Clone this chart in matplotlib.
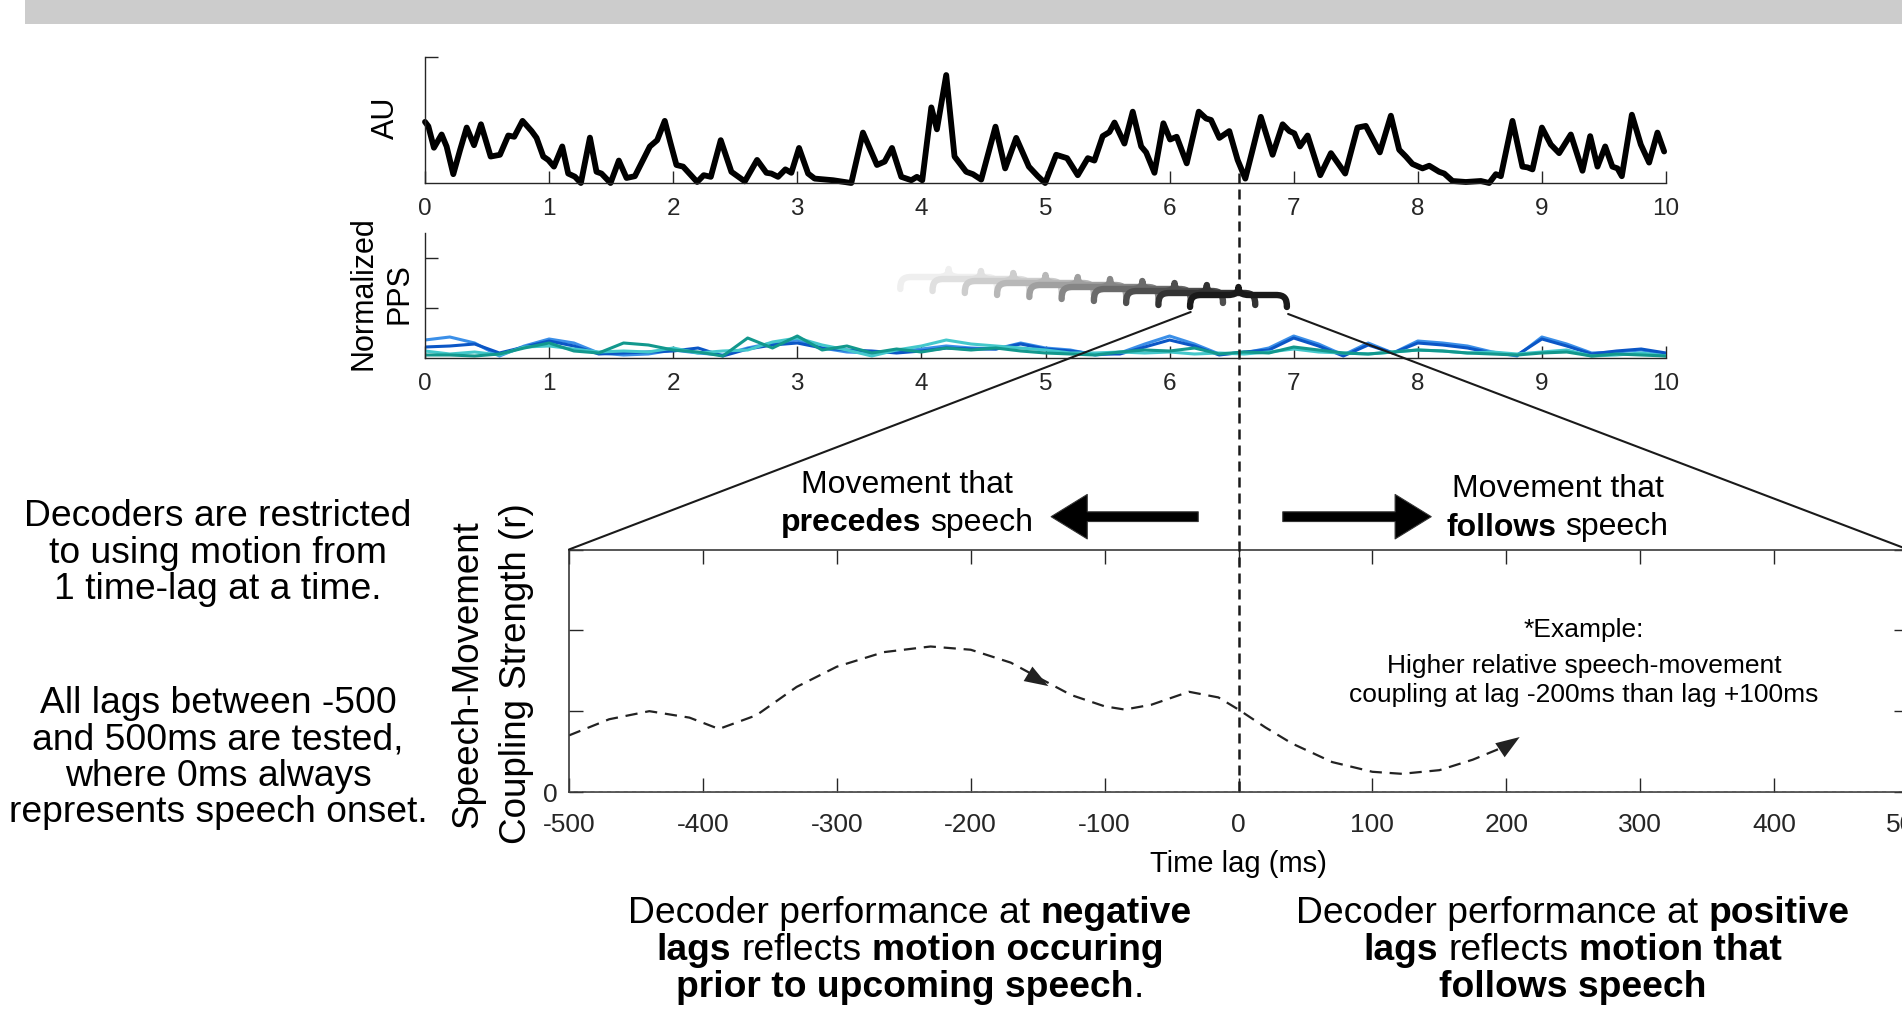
import matplotlib
matplotlib.use("Agg")
import matplotlib.pyplot as plt
import matplotlib.transforms as mtransforms
import numpy as np
from matplotlib.patches import Rectangle, PathPatch, FancyArrowPatch, ArrowStyle, ConnectionPatch
from matplotlib.path import Path
from matplotlib.lines import Line2D

plt.rcParams['font.family'] = ['Liberation Sans', 'DejaVu Sans']
plt.rcParams['axes.unicode_minus'] = False

# ---- data ----
# speech envelope (AU), time in s
au_t = [0, 0.027, 0.072, 0.134, 0.174, 0.228, 0.282, 0.336, 0.395, 0.451,
        0.529, 0.604, 0.671, 0.719, 0.786, 0.859, 0.899, 0.953, 0.993, 1.039,
        1.106, 1.154, 1.208, 1.256, 1.329, 1.382, 1.422, 1.495, 1.562, 1.624,
        1.691, 1.812, 1.871, 1.932, 1.978, 2.026, 2.08, 2.193, 2.246, 2.303,
        2.383, 2.469, 2.577, 2.676, 2.751, 2.791, 2.845, 2.904, 2.952, 3.014,
        3.087, 3.140, 3.288, 3.382, 3.435, 3.529, 3.642, 3.704, 3.763, 3.838,
        3.919, 3.964, 4.007, 4.08, 4.125, 4.20, 4.267, 4.361, 4.415, 4.482,
        4.597, 4.675, 4.764, 4.866, 4.938, 4.997, 5.086, 5.174, 5.26, 5.341,
        5.394, 5.461, 5.515, 5.556, 5.636, 5.703, 5.771, 5.811, 5.878, 5.950,
        6.004, 6.057, 6.138, 6.235, 6.294, 6.334, 6.401, 6.481, 6.548, 6.610,
        6.669, 6.735, 6.83, 6.911, 6.965, 7.005, 7.05, 7.112, 7.214, 7.30,
        7.415, 7.514, 7.581, 7.694, 7.783, 7.85, 7.904, 7.957, 8.038, 8.092,
        8.172, 8.213, 8.28, 8.387, 8.508, 8.575, 8.629, 8.669, 8.763, 8.843,
        8.884, 8.924, 9.0, 9.072, 9.139, 9.233, 9.327, 9.389, 9.448, 9.51,
        9.568, 9.609, 9.644, 9.725, 9.797, 9.864, 9.931, 9.985]
au_v = [0.485, 0.45, 0.28, 0.385, 0.29, 0.07, 0.26, 0.44, 0.30, 0.466,
        0.21, 0.224, 0.377, 0.367, 0.493, 0.412, 0.358, 0.21, 0.183, 0.13,
        0.29, 0.075, 0.05, 0.0, 0.36, 0.089, 0.075, 0.0, 0.178, 0.04,
        0.054, 0.29, 0.34, 0.493, 0.318, 0.143, 0.13, 0.008, 0.062, 0.049,
        0.34, 0.089, 0.013, 0.183, 0.081, 0.075, 0.049, 0.108, 0.081, 0.278,
        0.075, 0.035, 0.022, 0.008, 0.0, 0.40, 0.143, 0.17, 0.278, 0.049,
        0.022, 0.049, 0.022, 0.60, 0.426, 0.857, 0.21, 0.089, 0.07, 0.027,
        0.447, 0.116, 0.358, 0.13, 0.054, 0.0, 0.224, 0.197, 0.062, 0.197,
        0.178, 0.372, 0.404, 0.48, 0.313, 0.566, 0.29, 0.243, 0.081, 0.474,
        0.345, 0.367, 0.156, 0.566, 0.512, 0.50, 0.358, 0.412, 0.183, 0.035,
        0.264, 0.525, 0.224, 0.466, 0.412, 0.394, 0.29, 0.377, 0.062, 0.237,
        0.075, 0.44, 0.453, 0.243, 0.534, 0.264, 0.21, 0.151, 0.116, 0.137,
        0.089, 0.075, 0.016, 0.008, 0.016, 0.0, 0.07, 0.054, 0.493, 0.13,
        0.124, 0.108, 0.44, 0.305, 0.237, 0.385, 0.097, 0.372, 0.13, 0.29,
        0.13, 0.116, 0.054, 0.542, 0.305, 0.162, 0.40, 0.25]

# normalized PPS traces, sampled every 0.2 s
pps_t = np.round(np.arange(0, 10.01, 0.2), 1)
pps_mid_blue = [.18, .21, .15, .02, .12, .19, .15, .05, .03, .04,
                .08, .05, .03, .10, .15, .18, .10, .06, .05, .06,
                .09, .12, .10, .09, .15, .10, .08, .03, .05, .14,
                .22, .14, .04, .05, .10, .22, .14, .03, .15, .05,
                .17, .15, .12, .06, .02, .21, .14, .05, .06, .08, .04]
pps_dark_blue = [.11, .12, .14, .05, .11, .17, .12, .04, .05, .06,
                 .07, .10, .02, .09, .13, .15, .10, .08, .07, .05,
                 .07, .10, .09, .09, .14, .09, .07, .04, .04, .11,
                 .18, .12, .03, .06, .08, .20, .12, .02, .13, .05,
                 .15, .13, .10, .05, .03, .19, .12, .04, .07, .09, .05]
pps_cyan = [.07, .04, .06, .03, .11, .12, .09, .06, .07, .06,
            .10, .05, .07, .08, .16, .20, .13, .08, .02, .08,
            .12, .18, .14, .12, .10, .08, .05, .05, .06, .05,
            .06, .04, .05, .04, .06, .09, .06, .05, .04, .06,
            .08, .07, .05, .06, .04, .06, .08, .02, .03, .05, .02]
pps_teal = [.03, .03, .02, .04, .10, .15, .07, .05, .15, .13,
            .08, .06, .02, .20, .10, .22, .08, .12, .05, .09,
            .06, .10, .08, .10, .07, .05, .04, .03, .06, .08,
            .07, .10, .04, .06, .05, .11, .08, .05, .04, .06,
            .08, .07, .05, .04, .03, .05, .06, .02, .04, .03, .02]

# lag windows (brace tips, s) and their heights in the PPS axis
onset = 6.555
brace_tips = [4.22, 4.48, 4.74, 5.00, 5.26, 5.52, 5.78, 6.04, 6.30, onset]
brace_y = [0.81, 0.79, 0.77, 0.75, 0.73, 0.71, 0.69, 0.67, 0.65, 0.63]
brace_cols = ['#efefef', '#e0e0e0', '#cdcdcd', '#b8b8b8', '#a0a0a0',
              '#868686', '#6a6a6a', '#4e4e4e', '#333333', '#1a1a1a']

# example coupling-strength curve
lag = [-500, -470, -440, -410, -388, -360, -330, -300, -265, -230,
       -200, -170, -150, -125, -100, -85, -65, -37, -15, 0,
       20, 40, 70, 100, 122, 150, 175, 197]
coupling = [0.70, 0.90, 1.00, 0.92, 0.78, 0.95, 1.30, 1.55, 1.73, 1.80,
            1.76, 1.60, 1.42, 1.20, 1.06, 1.02, 1.08, 1.24, 1.17, 1.02,
            0.80, 0.60, 0.37, 0.25, 0.225, 0.27, 0.40, 0.55]
lag_ticks = list(range(-500, 501, 100))

# ---- figure ----
W, H = 1902, 1009
fig = plt.figure(figsize=(W / 100, H / 100), dpi=100)
ink = '#262626'


def rect(l, t, r, b):
    return [l / W, 1 - b / H, (r - l) / W, (b - t) / H]


fig.add_artist(Rectangle((25 / W, 1 - 24 / H), (W - 25) / W, 24 / H,
                         transform=fig.transFigure, color='#cccccc', lw=0))

# top: speech envelope
ax1 = fig.add_axes(rect(425, 57, 1666, 183))
ax1.plot(au_t, au_v, color='black', lw=4.2, solid_joinstyle='round',
         solid_capstyle='round', clip_on=False)
ax1.set_xlim(0, 10)
ax1.set_ylim(0, 1)

# middle: PPS
ax2 = fig.add_axes(rect(425, 233, 1666, 358))
for vals, col in [(pps_mid_blue, '#3b8fe8'), (pps_dark_blue, '#0b56c6'),
                  (pps_cyan, '#44c8cb'), (pps_teal, '#12988d')]:
    ax2.plot(pps_t, vals, color=col, lw=2.2, solid_joinstyle='round')
ax2.set_xlim(0, 10)
ax2.set_ylim(0, 1.25)

for ax, yt in [(ax1, [1]), (ax2, [0.5, 1.0])]:
    for s in ['top', 'right']:
        ax.spines[s].set_visible(False)
    for s in ['left', 'bottom']:
        ax.spines[s].set_color(ink)
        ax.spines[s].set_linewidth(1.0)
    ax.set_xticks(range(11))
    ax.set_yticks(yt)
    ax.set_yticklabels([])
    ax.tick_params(direction='in', length=9, width=1, colors=ink,
                   labelsize=17.5, pad=11)
    ax.patch.set_alpha(0)

# braces marking the lag windows
w_half, r_c, h_up, h_dn = 0.39, 0.09, 0.08, 0.12
for c, y, col in zip(brace_tips, brace_y, brace_cols):
    verts = [(c - w_half, y - h_dn),
             (c - w_half, y - h_dn * 0.3), (c - w_half + r_c * 0.2, y), (c - w_half + r_c, y),
             (c - r_c, y),
             (c - r_c * 0.3, y), (c, y + h_up * 0.3), (c, y + h_up),
             (c, y + h_up * 0.3), (c + r_c * 0.3, y), (c + r_c, y),
             (c + w_half - r_c, y),
             (c + w_half - r_c * 0.2, y), (c + w_half, y - h_dn * 0.3), (c + w_half, y - h_dn)]
    codes = [Path.MOVETO, Path.CURVE4, Path.CURVE4, Path.CURVE4, Path.LINETO,
             Path.CURVE4, Path.CURVE4, Path.CURVE4, Path.CURVE4, Path.CURVE4, Path.CURVE4,
             Path.LINETO, Path.CURVE4, Path.CURVE4, Path.CURVE4]
    ax2.add_patch(PathPatch(Path(verts, codes), fill=False, ec=col, lw=4.6,
                            capstyle='round', joinstyle='round', clip_on=False, zorder=4))

# bottom: coupling strength vs lag
ax3 = fig.add_axes(rect(569, 549.5, 1908, 792))
ax3.plot(lag, coupling, color='#222222', lw=1.6, ls=(0, (5.5, 3.5)))
ax3.axhline(0, color='#9a9a9a', lw=1.0, ls=(0, (3, 3)), zorder=3)
ax3.set_xlim(-500, 500)
ax3.set_ylim(0, 3)
ax3.set_xticks(lag_ticks)
ax3.set_xticklabels([str(v) for v in lag_ticks])
ax3.set_yticks([0, 1, 2, 3])
ax3.set_yticklabels(['0', '', '', ''])
ax3.tick_params(direction='in', length=10, width=1, colors=ink, labelsize=19,
                top=True, right=True)
ax3.tick_params(axis='x', pad=15)
ax3.tick_params(axis='y', pad=8)
for s in ax3.spines.values():
    s.set_color('#3a3a3a')
    s.set_linewidth(1.2)
ax3.patch.set_alpha(0)

head = dict(arrowstyle='-|>,head_length=0.9,head_width=0.32', mutation_scale=19,
            color='#222222', lw=0, shrinkA=0, shrinkB=0)
ax3.annotate('', xy=(-142, 1.31), xytext=(-152, 1.41), arrowprops=head)
ax3.annotate('', xy=(210, 0.68), xytext=(201, 0.58), arrowprops=head)

# thick arrows above the lag axis
big = ArrowStyle.Simple(head_length=26, head_width=32, tail_width=7)
for a, b in [(-28, -142), (31, 146)]:
    ax3.add_patch(FancyArrowPatch((a, 3.406), (b, 3.406), arrowstyle=big, mutation_scale=1,
                                  fc='black', ec='#333333', lw=0.8, clip_on=False))

# zoom lines from the last brace to the lag axis
for (xa, ya), (xb, yb) in [((6.17, 0.46), (-500, 3)), ((6.955, 0.44), (500, 3))]:
    fig.add_artist(ConnectionPatch(xyA=(xa, ya), coordsA=ax2.transData,
                                   xyB=(xb, yb), coordsB=ax3.transData,
                                   color='#1a1a1a', lw=1.5))

# speech-onset dashed line
blend = mtransforms.blended_transform_factory(ax3.transData, fig.transFigure)
fig.add_artist(Line2D([0, 0], [1 - 173 / H, ax3.get_position().y0], transform=blend,
                      color='#1a1a1a', lw=1.8, ls=(0, (4, 2.4))))

# ---- text ----
renderer = fig.canvas.get_renderer()


def text_w(s, size, weight):
    t = fig.text(0, 0, s, fontsize=size, fontweight=weight)
    w = t.get_window_extent(renderer).width
    t.remove()
    return w


def rich_line(xc, yc, parts, size):
    space = text_w('a a', size, 'normal') - text_w('aa', size, 'normal')
    items, total = [], 0
    for s, bold in parts:
        weight = 'bold' if bold else 'normal'
        lead = (len(s) - len(s.lstrip(' '))) * space
        trail = (len(s) - len(s.rstrip(' '))) * space
        core = s.strip(' ')
        w = text_w(core, size, weight)
        items.append((lead, core, weight, w, trail))
        total += lead + w + trail
    x = xc - total / 2
    base = yc + 0.36 * size * 100 / 72
    for lead, core, weight, w, trail in items:
        x += lead
        fig.text(x / W, 1 - base / H, core, fontsize=size, fontweight=weight,
                 ha='left', va='baseline', color='black')
        x += w + trail


BODY = 26.8
for y, s in [(513, 'Decoders are restricted'), (549.5, 'to using motion from'),
             (586, '1 time-lag at a time.'), (700, 'All lags between -500'),
             (736, 'and 500ms are tested,'), (772.5, 'where 0ms always'),
             (809, 'represents speech onset.')]:
    rich_line(218, y, [(s, False)], BODY)

rich_line(907, 481.5, [('Movement that', False)], 23)
rich_line(907, 519, [('precedes', True), (' speech', False)], 23)
rich_line(1557.5, 486, [('Movement that', False)], 23)
rich_line(1557.5, 524, [('follows', True), (' speech', False)], 23)

rich_line(1584, 628, [('*Example:', False)], 19)
rich_line(1584, 663.5, [('Higher relative speech-movement', False)], 19)
rich_line(1584, 692.5, [('coupling at lag -200ms than lag +100ms', False)], 19)

rich_line(910, 910, [('Decoder performance at ', False), ('negative', True)], BODY)
rich_line(910, 947, [('lags', True), (' reflects ', False), ('motion occuring', True)], BODY)
rich_line(910, 984, [('prior to upcoming speech', True), ('.', False)], BODY)
rich_line(1573, 910, [('Decoder performance at ', False), ('positive', True)], BODY)
rich_line(1573, 947, [('lags', True), (' reflects ', False), ('motion that', True)], BODY)
rich_line(1573, 984, [('follows speech', True)], BODY)

rich_line(1238.5, 862, [('Time lag (ms)', False)], 21)

for x, y, s, size in [(386, 117.7, 'AU', 22), (364, 293.5, 'Normalized', 22),
                      (400, 293.5, 'PPS', 22), (468, 674, 'Speech-Movement', 26.5),
                      (517, 674, 'Coupling Strength (r)', 26.5)]:
    fig.text(x / W, 1 - y / H, s, fontsize=size, rotation=90, ha='center', va='center',
             color='black')

fig.savefig('out.png', dpi=100)
